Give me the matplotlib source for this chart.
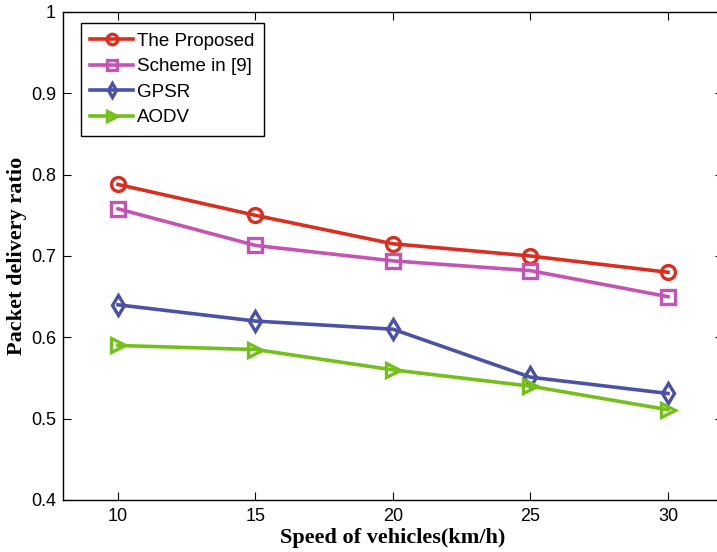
import matplotlib
matplotlib.use('Agg')
from matplotlib import pyplot as plt

speed = [10, 15, 20, 25, 30]
proposed = [0.788, 0.750, 0.715, 0.700, 0.680]
scheme9 = [0.758, 0.713, 0.694, 0.682, 0.650]
gpsr = [0.640, 0.620, 0.610, 0.551, 0.531]
aodv = [0.590, 0.585, 0.560, 0.540, 0.511]

series = [
    ('The Proposed', proposed, '#dc2e1e', 'o'),
    ('Scheme in [9]', scheme9, '#c553b3', 's'),
    ('GPSR', gpsr, '#4a52a8', 'd'),
    ('AODV', aodv, '#74c01a', '>'),
]

fig = plt.figure(figsize=(7.17, 5.52), dpi=100)
ax = fig.add_axes([63/717, 1 - 500/552, (723 - 63)/717, (500 - 12)/552])

for name, vals, col, mk in series:
    ax.plot(speed, vals, color=col, lw=2.6, marker=mk, markersize=10,
            markerfacecolor='none', markeredgewidth=2.4, label=name)

ax.set_xlim(8, 32)
ax.set_ylim(0.4, 1.0)
ax.set_xticks(speed)
ax.set_yticks([0.4, 0.5, 0.6, 0.7, 0.8, 0.9, 1.0])
ax.set_yticklabels(['0.4', '0.5', '0.6', '0.7', '0.8', '0.9', '1'])
ax.tick_params(direction='in', top=True, right=True, length=6, width=0.8,
               labelsize=13)
ax.tick_params(axis='x', pad=6)
ax.tick_params(axis='y', pad=5)
for lab in ax.get_xticklabels() + ax.get_yticklabels():
    lab.set_family('Liberation Sans')
for sp in ax.spines.values():
    sp.set_linewidth(1.0)

ax.set_xlabel('Speed of vehicles(km/h)', fontsize=16, fontweight='bold',
              family='Liberation Serif', labelpad=2)
ax.set_ylabel('Packet delivery ratio', fontsize=16, fontweight='bold',
              family='Liberation Serif', labelpad=3)

leg = ax.legend(loc='upper left', bbox_to_anchor=(0.027, 0.977),
                prop={'family': 'Liberation Sans', 'size': 13.5},
                fancybox=False, edgecolor='black', framealpha=1,
                handlelength=2.3, borderpad=0.5, labelspacing=0.45,
                handletextpad=0.2, borderaxespad=0, markerscale=0.75)
leg.get_frame().set_linewidth(1.0)

fig.savefig('out.png', dpi=100)
